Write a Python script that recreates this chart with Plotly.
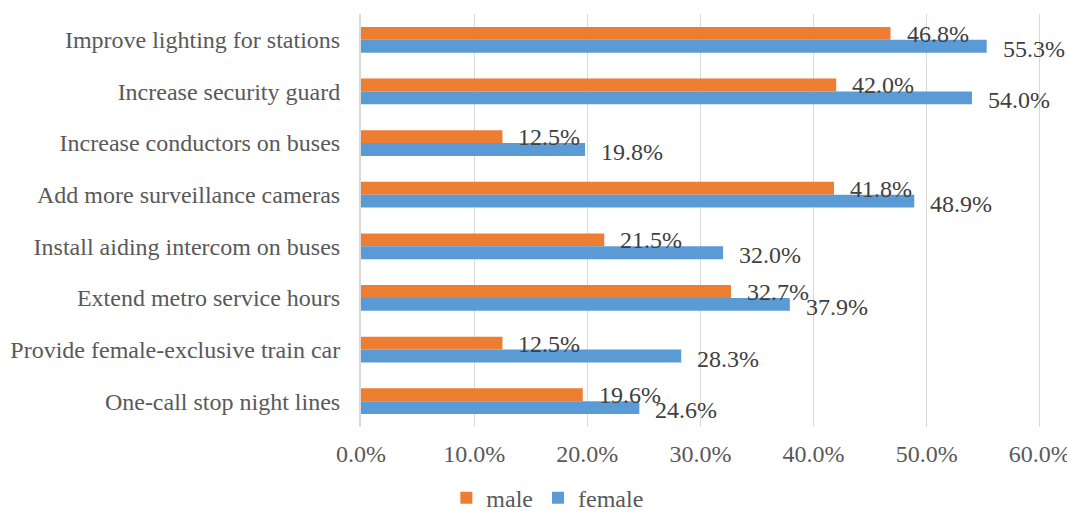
import plotly.graph_objects as go

categories = [
    "Improve lighting for stations",
    "Increase security guard",
    "Increase conductors on buses",
    "Add more surveillance cameras",
    "Install aiding intercom on buses",
    "Extend metro service hours",
    "Provide female-exclusive train car",
    "One-call stop night lines",
]
male = [46.8, 42.0, 12.5, 41.8, 21.5, 32.7, 12.5, 19.6]
female = [55.3, 54.0, 19.8, 48.9, 32.0, 37.9, 28.3, 24.6]
x_ticks = [0, 10, 20, 30, 40, 50, 60]
x_tick_labels = [f"{v:.1f}%" for v in x_ticks]

FONT = '"Liberation Serif", "Times New Roman", serif'
ORANGE = "#ED7D31"
BLUE = "#5B9BD5"

fig = go.Figure()
fig.add_trace(go.Bar(y=categories, x=male, name="male", orientation="h",
                     marker=dict(color=ORANGE, line=dict(width=0))))
fig.add_trace(go.Bar(y=categories, x=female, name="female", orientation="h",
                     marker=dict(color=BLUE, line=dict(width=0))))

for c, m, f in zip(categories, male, female):
    fig.add_annotation(x=m, y=c, text=f"{m:.1f}%", showarrow=False, xanchor="left",
                       yanchor="middle", xshift=14, yshift=6,
                       font=dict(family=FONT, size=24, color="#404040"))
    fig.add_annotation(x=f, y=c, text=f"{f:.1f}%", showarrow=False, xanchor="left",
                       yanchor="middle", xshift=14, yshift=-9,
                       font=dict(family=FONT, size=24, color="#404040"))

fig.update_layout(
    width=1067, height=513,
    margin=dict(l=361, r=26, t=14, b=86, autoexpand=False),
    barmode="group", bargap=0.5, bargroupgap=0,
    plot_bgcolor="white", paper_bgcolor="white",
    font=dict(family=FONT, size=24, color="#595959"),
    showlegend=True,
    legend=dict(orientation="h", xref="container", yref="container",
                x=0.513, xanchor="center", y=0.029, yanchor="middle",
                font=dict(family=FONT, size=24, color="#595959"),
                itemwidth=30, tracegroupgap=0),
    xaxis=dict(range=[0, 60.1], tickvals=x_ticks, ticktext=x_tick_labels,
               showgrid=True, gridcolor="#d9d9d9", gridwidth=1,
               zeroline=False, showline=False, ticks="", ticklabelstandoff=10,
               ticklabeloverflow="allow", automargin=False, fixedrange=True),
    yaxis=dict(autorange="reversed", showgrid=False, showline=True,
               linecolor="#d9d9d9", linewidth=2, ticks="", ticklabelstandoff=14,
               automargin=False, fixedrange=True),
)

# remove the default page margin so the figure fills the window exactly
fig.write_html("out.html",
               config={"displayModeBar": False},
               post_script="document.body.style.margin='0';document.body.style.overflow='hidden';")
